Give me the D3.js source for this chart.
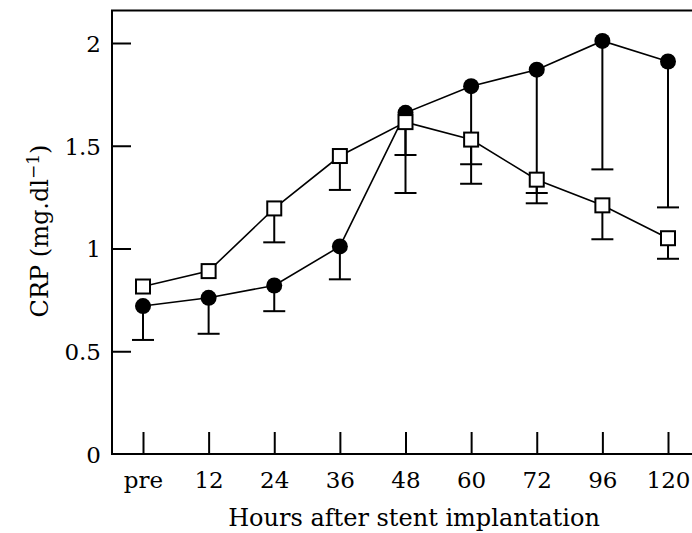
<!DOCTYPE html>
<html>
<head>
<meta charset="utf-8">
<script src="https://cdn.jsdelivr.net/npm/d3@7"></script>
<style>
	body { margin: 0; background: #fff; }
	svg { display: block; }
	text { font-family: "DejaVu Serif", serif; fill: #000; }
</style>
</head>
<body>
<div id="chart"></div>
<script>
const hours = ["pre", "12", "24", "36", "48", "60", "72", "96", "120"];

// filled circles
const crpFilled = [0.72, 0.76, 0.82, 1.01, 1.66, 1.79, 1.87, 2.01, 1.91];
const crpFilledLow = [0.555, 0.585, 0.695, 0.85, 1.27, 1.315, 1.22, 1.385, 1.2];

// open squares
const crpOpen = [0.815, 0.89, 1.195, 1.45, 1.615, 1.53, 1.335, 1.21, 1.05];
const crpOpenLow = [null, null, 1.03, 1.285, 1.455, 1.41, 1.27, 1.045, 0.95];

const yTicks = [0, 0.5, 1, 1.5, 2];

const width = 692;
const height = 533;

const svg = d3.select("#chart").append("svg")
	.attr("width", width)
	.attr("height", height);

const x = d3.scalePoint().domain(hours).range([143, 668]);
const y = d3.scaleLinear().domain([0, 2]).range([454, 43]);

// frame (right side runs off the picture)
svg.append("path")
	.attr("d", "M700,10.5 H112 V454 H700")
	.attr("fill", "none")
	.attr("stroke", "#000")
	.attr("stroke-width", 2);

const yAxis = svg.append("g")
	.attr("transform", "translate(112,0)")
	.call(d3.axisLeft(y).tickValues(yTicks).tickFormat(d3.format("")).tickSizeInner(-19).tickSizeOuter(0).tickPadding(11));
yAxis.select(".domain").remove();
yAxis.selectAll(".tick line").attr("stroke-width", 2).filter(d => d === 0).remove();
yAxis.selectAll(".tick text").attr("font-size", 23).attr("font-family", null).attr("dy", "0.36em");

const xAxis = svg.append("g")
	.attr("transform", "translate(0,454)")
	.call(d3.axisBottom(x).tickSizeInner(-22).tickSizeOuter(0));
xAxis.select(".domain").remove();
xAxis.selectAll(".tick line").attr("stroke-width", 2);
xAxis.selectAll(".tick text")
	.attr("font-size", 23)
	.attr("font-family", null)
	.attr("y", 34)
	.attr("dy", 0);

// axis titles
svg.append("text")
	.attr("x", 414)
	.attr("y", 526)
	.attr("text-anchor", "middle")
	.attr("font-size", 24)
	.text("Hours after stent implantation");

const yTitle = svg.append("text")
	.attr("transform", "translate(48,231) rotate(-90)")
	.attr("text-anchor", "middle")
	.attr("font-size", 24);
yTitle.append("tspan").text("CRP (mg.dl");
yTitle.append("tspan").attr("font-size", 17).attr("dy", -9).text("\u22121");
yTitle.append("tspan").attr("dy", 9).text(")");

const line = d3.line()
	.x((d, i) => x(hours[i]))
	.y(d => y(d));

function drawSeries(values, lows, shape) {
	svg.append("path")
		.datum(values)
		.attr("d", line)
		.attr("fill", "none")
		.attr("stroke", "#000")
		.attr("stroke-width", 1.6);

	const bars = svg.append("g");
	values.forEach((v, i) => {
		const lo = lows[i];
		if (lo == null) return;
		const cx = x(hours[i]);
		bars.append("line")
			.attr("x1", cx).attr("x2", cx)
			.attr("y1", y(v)).attr("y2", y(lo))
			.attr("stroke", "#000").attr("stroke-width", 2);
		bars.append("line")
			.attr("x1", cx - 11).attr("x2", cx + 11)
			.attr("y1", y(lo)).attr("y2", y(lo))
			.attr("stroke", "#000").attr("stroke-width", 2);
	});

	const marks = svg.append("g");
	values.forEach((v, i) => {
		const cx = x(hours[i]);
		if (shape === "circle") {
			marks.append("circle")
				.attr("cx", cx).attr("cy", y(v))
				.attr("r", 8)
				.attr("fill", "#000");
		} else {
			marks.append("rect")
				.attr("x", cx - 7).attr("y", y(v) - 7)
				.attr("width", 14).attr("height", 14)
				.attr("fill", "#fff")
				.attr("stroke", "#000")
				.attr("stroke-width", 2);
		}
	});
}

drawSeries(crpFilled, crpFilledLow, "circle");
drawSeries(crpOpen, crpOpenLow, "square");
</script>
</body>
</html>
